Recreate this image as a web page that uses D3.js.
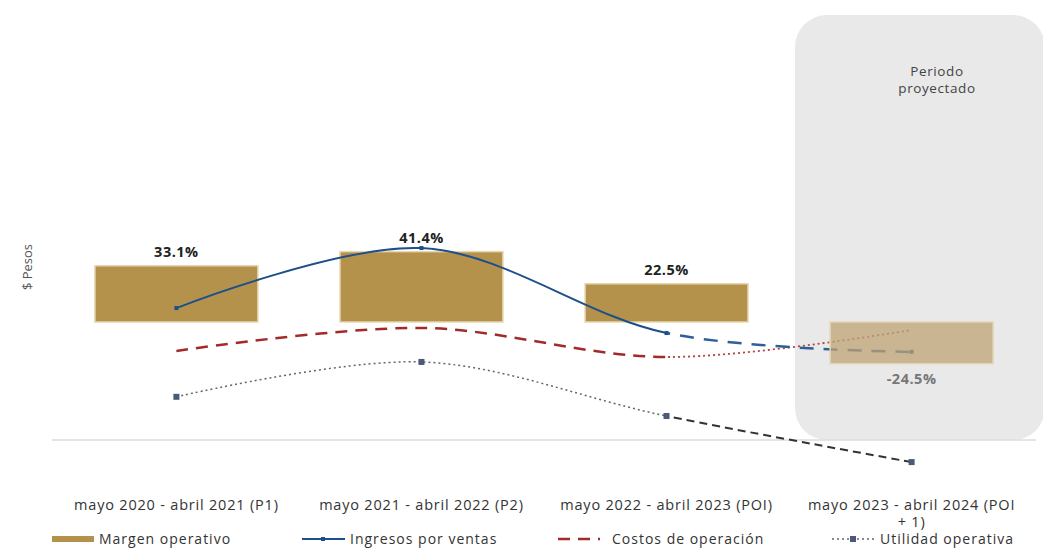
<!DOCTYPE html>
<html><head><meta charset="utf-8">
<script src="https://d3js.org/d3.v7.min.js"></script>
<style>body{margin:0;background:#fff;font-family:"Open Sans",sans-serif}</style>
</head><body><svg id="c" width="1043" height="548"></svg>
<script>
var categories = ["mayo 2020 - abril 2021 (P1)", "mayo 2021 - abril 2022 (P2)", "mayo 2022 - abril 2023 (POI)", "mayo 2023 - abril 2024 (POI + 1)"];
var margen = [33.1, 41.4, 22.5, -24.5];
var ingresos = [8.2, 43.5, -6.5, -17.6];
var costos = [-17, -3.5, -20.6, -4.7];
var utilidad = [-44, -23.5, -55.3, -82.4];

var svg = d3.select("#c");
var x = d3.scaleBand().domain(categories).range([54, 1034]).paddingInner(0.335).paddingOuter(0.167);
var y = d3.scaleLinear().domain([-100, 100]).range([492, 152]);
var cx = function(i){ return x(categories[i]) + x.bandwidth()/2; };

// projected period panel
svg.append("rect").attr("x", 795).attr("y", 15).attr("width", 250).attr("height", 425)
  .attr("rx", 32).attr("fill", "#e9e9e9");
svg.append("text").attr("x", 937).attr("y", 76).attr("text-anchor", "middle").attr("font-size", 13.5).attr("fill", "#444").attr("letter-spacing", 0.6)
  .selectAll("tspan").data(["Periodo", "proyectado"]).join("tspan").attr("x", 937).attr("dy", function(d,i){return i?17:0;}).text(function(d){return d;});

// axis line
svg.append("line").attr("x1", 52).attr("x2", 1036).attr("y1", y(-69.4)).attr("y2", y(-69.4)).attr("stroke", "#ddd").attr("stroke-width", 1.5);

function barAttrs(sel) {
  sel.attr("x", function(d){return x(categories[d.i]);}).attr("width", x.bandwidth())
    .attr("y", function(d){return y(Math.max(0,d.v));}).attr("height", function(d){return Math.abs(y(d.v)-y(0));})
    .attr("stroke-width", 1.5);
}
var barData = margen.map(function(v,i){return {v:v, i:i};});
svg.selectAll(".bar").data(barData.slice(0,3)).join("rect").call(barAttrs)
  .attr("fill", "#b5924b").attr("stroke", "#e6d7b0");

// lines, split at the third category
var splitX = cx(2);
var defs = svg.append("defs");
defs.append("clipPath").attr("id", "past").append("rect").attr("x", 0).attr("y", 0).attr("width", splitX).attr("height", 548);
defs.append("clipPath").attr("id", "proj").append("rect").attr("x", splitX).attr("y", 0).attr("width", 1043).attr("height", 548);
var line = d3.line().x(function(d,i){return cx(i);}).y(function(d){return y(d);}).curve(d3.curveCatmullRom);

function drawSeries(vals, past, proj, marker) {
  svg.append("path").attr("d", line(vals)).attr("clip-path", "url(#past)").attr("fill", "none")
    .attr("stroke", past.c).attr("stroke-width", past.w).attr("stroke-dasharray", past.d);
  svg.append("path").attr("d", line(vals)).attr("clip-path", "url(#proj)").attr("fill", "none")
    .attr("stroke", proj.c).attr("stroke-width", proj.w).attr("stroke-dasharray", proj.d);
  if (marker) vals.forEach(function(v,i){
    svg.append("rect").attr("x", cx(i)-marker.s/2).attr("y", y(v)-marker.s/2).attr("width", marker.s).attr("height", marker.s).attr("fill", marker.c);
  });
}
drawSeries(costos, {c:"#a32a2a", w:2.5, d:"12,8"}, {c:"#b04545", w:1.8, d:"2,3"}, null);
drawSeries(ingresos, {c:"#1f4f8a", w:2, d:null}, {c:"#2f5f98", w:2.5, d:"14,10"}, {s:4, c:"#1f4f8a"});
drawSeries(utilidad, {c:"#666", w:1.5, d:"2,3"}, {c:"#333", w:2, d:"8,5"}, {s:6, c:"#4a5a78"});

// projected bar drawn over the lines, semi-transparent
svg.selectAll(".pbar").data(barData.slice(3)).join("rect").call(barAttrs)
  .attr("fill", "#bea374").attr("fill-opacity", 0.75).attr("stroke", "#e3d5b7");

svg.selectAll(".bl").data(margen).join("text")
  .attr("x", function(d,i){return cx(i);}).attr("y", function(d){return d>0 ? y(d)-9 : y(d)+20;})
  .attr("text-anchor", "middle").attr("font-size", 14.5).attr("font-weight", "bold").attr("letter-spacing", 0.5)
  .attr("fill", function(d){return d>0 ? "#222" : "#777";})
  .text(function(d){return d.toFixed(1) + "%";});

// y label
svg.append("text").attr("transform", "translate(32,267) rotate(-90)").attr("text-anchor", "middle")
  .attr("font-size", 13).attr("fill", "#555").text("$ Pesos");

// category labels
var labels = [["mayo 2020 - abril 2021 (P1)"], ["mayo 2021 - abril 2022 (P2)"], ["mayo 2022 - abril 2023 (POI)"], ["mayo 2023 - abril 2024 (POI", "+ 1)"]];
labels.forEach(function(l,i){
  svg.append("text").attr("x", cx(i)).attr("y", 510).attr("text-anchor", "middle").attr("font-size", 14.5).attr("letter-spacing", 0.8).attr("fill", "#333")
    .selectAll("tspan").data(l).join("tspan").attr("x", cx(i)).attr("dy", function(d,j){return j?17:0;}).text(function(d){return d;});
});

// legend
var ly = 539;
var lg = svg.append("g").attr("font-size", 14).attr("letter-spacing", 1).attr("fill", "#333");
lg.append("rect").attr("x", 52).attr("y", ly-3).attr("width", 42).attr("height", 6).attr("fill", "#b5924b");
lg.append("text").attr("x", 99).attr("y", ly+5).text("Margen operativo");
lg.append("line").attr("x1", 302).attr("x2", 345).attr("y1", ly).attr("y2", ly).attr("stroke", "#1f4f8a").attr("stroke-width", 2);
lg.append("rect").attr("x", 321).attr("y", ly-2).attr("width", 4).attr("height", 4).attr("fill", "#1f4f8a");
lg.append("text").attr("x", 350).attr("y", ly+5).text("Ingresos por ventas");
lg.append("line").attr("x1", 558).attr("x2", 600).attr("y1", ly).attr("y2", ly).attr("stroke", "#a32a2a").attr("stroke-width", 2.5).attr("stroke-dasharray", "12,8");
lg.append("text").attr("x", 612).attr("y", ly+5).text("Costos de operación");
lg.append("line").attr("x1", 832).attr("x2", 875).attr("y1", ly).attr("y2", ly).attr("stroke", "#666").attr("stroke-width", 1.5).attr("stroke-dasharray", "2,3");
lg.append("rect").attr("x", 850).attr("y", ly-3).attr("width", 6).attr("height", 6).attr("fill", "#4a5a78");
lg.append("text").attr("x", 880).attr("y", ly+5).text("Utilidad operativa");
</script></body></html>
